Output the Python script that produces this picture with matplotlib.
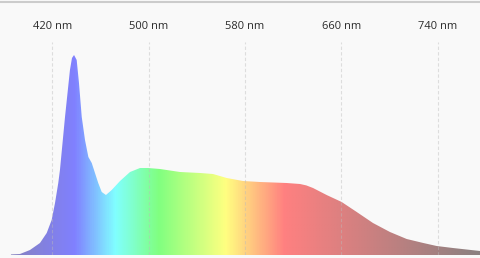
import numpy as np
import matplotlib.pyplot as plt
from matplotlib.colors import LinearSegmentedColormap
from matplotlib.lines import Line2D

plt.rcParams['font.family'] = ['Open Sans', 'DejaVu Sans']

# spectrum (nm, relative intensity)
wavelength = [385.7, 393.2, 401.5, 409.8, 415.4, 419.5, 422.3, 425.0, 426.4,
              430.6, 434.7, 436.4, 438.1, 440.3, 442.2, 444.5, 447.2, 450.0,
              452.8, 455.5, 458.2, 461.1, 464.6, 469.4, 476.3, 484.6, 492.9,
              499.5, 509.5, 526.1, 542.7, 553.5, 564.9, 578.4, 592.5, 614.7,
              625.8, 631.0, 636.6, 647.9, 660.4, 672.9, 686.4, 700.5, 714.4,
              728.2, 739.3, 752.8, 775.3]
intensity = [0.003, 0.005, 0.025, 0.06, 0.11, 0.175, 0.26, 0.36, 0.425,
             0.69, 0.925, 0.985, 1.0, 0.975, 0.86, 0.69, 0.575, 0.49,
             0.46, 0.41, 0.36, 0.315, 0.30, 0.325, 0.37, 0.415, 0.435,
             0.435, 0.43, 0.415, 0.41, 0.405, 0.385, 0.37, 0.365, 0.36,
             0.355, 0.348, 0.335, 0.30, 0.265, 0.215, 0.16, 0.115, 0.08,
             0.06, 0.045, 0.035, 0.02]

ticks = [420, 500, 580, 660, 740]
tick_labels = [f"{t} nm" for t in ticks]

X0, X1 = 376.6, 775.3
Y1 = 1.065
BG = '#f9f9f9'

# colour stops of the rainbow fill
stop_nm = [X0, 386, 438, 472, 508, 564, 613, X1]
stop_colors = ['#8a84b8', '#8682c0', '#8080ff', '#80ffff', '#80ff80',
               '#ffff80', '#ff8080', '#8a8080']

fig = plt.figure(figsize=(4.8, 2.58), dpi=100, facecolor=BG)
ax = fig.add_axes([0, 3 / 258, 1, 213 / 258])
ax.set_facecolor(BG)

poly = ax.fill_between(wavelength, intensity, 0, facecolor='none', edgecolor='none')

cmap = LinearSegmentedColormap.from_list(
    'spec', [((s - X0) / (X1 - X0), c) for s, c in zip(stop_nm, stop_colors)])
grad = np.linspace(X0, X1, 800).reshape(1, -1)
img = ax.imshow(grad, cmap=cmap, vmin=X0, vmax=X1, extent=[X0, X1, 0, Y1],
                aspect='auto', origin='lower', interpolation='bilinear')
img.set_clip_path(poly.get_paths()[0], transform=ax.transData)

ax.set_xlim(X0, X1)
ax.set_ylim(0, Y1)

for s in ax.spines.values():
    s.set_visible(False)
ax.set_yticks([])
ax.xaxis.tick_top()
ax.set_xticks(ticks, tick_labels)
ax.tick_params(axis='x', length=0, pad=7, labelsize=8, labelcolor='#2a2a2a')
ax.set_axisbelow(False)
ax.grid(axis='x', color='#bbbbbb', alpha=0.45, linestyle=(0, (3, 2)), linewidth=0.8)

fig.add_artist(Line2D([0, 1], [1 - 1.5 / 258] * 2, transform=fig.transFigure,
                      color='#cccccc', linewidth=1.5))

fig.savefig('out.png', dpi=100, facecolor=BG)
